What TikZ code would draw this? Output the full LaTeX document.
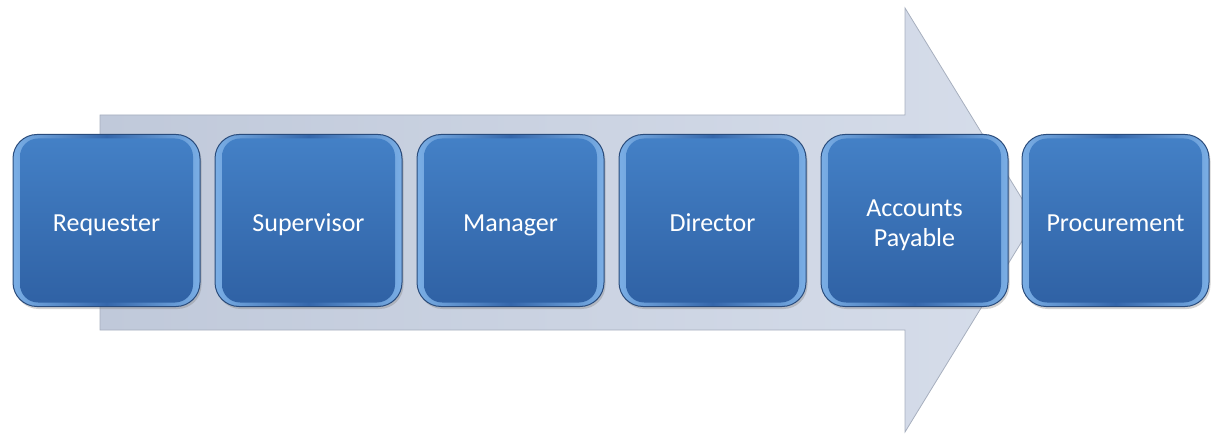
\documentclass[tikz,border=0pt]{standalone}
\usepackage{fontspec}
\setmainfont{Carlito}
\usetikzlibrary{shadows}
\definecolor{boxedge}{HTML}{2A4C7C}
\definecolor{boxside}{HTML}{7AAEE5}
\definecolor{boxmid}{HTML}{3567AB}
\definecolor{boxtop}{HTML}{4481C7}
\definecolor{boxbot}{HTML}{2F61A4}
\definecolor{arrl}{HTML}{C0C9DA}
\definecolor{arrr}{HTML}{D6DDEA}
\definecolor{arredge}{HTML}{A7AFBE}
\tikzset{
  stepbox/.style={
    draw=boxedge, line width=1pt, rounded corners=24pt,
    minimum width=187pt, minimum height=172pt,
    left color=boxside, right color=boxside, middle color=boxmid,
    text=white, font=\fontsize{26}{30}\selectfont, align=center,
    execute at begin node={\strut\rule{0pt}{31pt}},
    drop shadow={shadow xshift=1.5pt, shadow yshift=-2.5pt, opacity=0.35},
    path picture={
      \shade[top color=boxtop, bottom color=boxbot, rounded corners=18pt]
        ([xshift=7pt,yshift=-4pt]path picture bounding box.north west)
        rectangle ([xshift=-7pt,yshift=4pt]path picture bounding box.south east);
    }
  },
  bigarrow/.style={draw=arredge, line width=0.8pt, left color=arrl, right color=arrr}
}
\begin{document}
\begin{tikzpicture}[x=1pt,y=-1pt]
\useasboundingbox (0,0) rectangle (1214,435);
\coordinate (a1) at (100,115);
\coordinate (a2) at (905,115);
\coordinate (a3) at (905,8);
\coordinate (a4) at (1035,220);
\coordinate (a5) at (905,432);
\coordinate (a6) at (905,330);
\coordinate (a7) at (100,330);
\path[bigarrow] (a1) -- (a2) -- (a3) -- (a4) -- (a5) -- (a6) -- (a7) -- cycle;
\node[stepbox] (b1) at (106.5,220.5) {Requester};
\node[stepbox] (b2) at (308.5,220.5) {Supervisor};
\node[stepbox] (b3) at (510.5,220.5) {Manager};
\node[stepbox] (b4) at (712.5,220.5) {Director};
\node[stepbox, text height=61pt, execute at begin node={}] (b5) at (914.5,220.5) {Accounts\\Payable\strut};
\node[stepbox] (b6) at (1115.5,220.5) {Procurement};
\end{tikzpicture}
\end{document}
